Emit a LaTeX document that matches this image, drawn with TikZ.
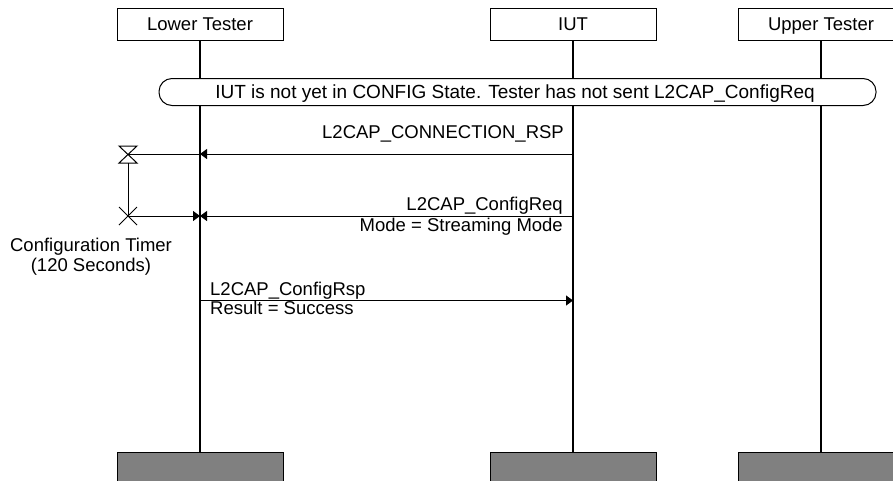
\documentclass[tikz,border=0pt]{standalone}
\usepackage{fontspec}
\setmainfont{Liberation Sans}
\usetikzlibrary{arrows.meta}
\definecolor{endgray}{HTML}{808080}
\begin{document}
\begin{tikzpicture}[x=1pt,y=-1pt,
  every node/.style={font=\fontsize{18.5}{21}\selectfont, inner sep=0pt},
  actor/.style={draw, line width=1pt, minimum width=166pt, minimum height=32pt, text height=13pt, text depth=0pt},
  endbox/.style={draw, line width=1pt, fill=endgray, minimum width=166pt, minimum height=40pt},
  life/.style={line width=1.8pt},
  thin/.style={line width=1pt},
  msg/.style={line width=1pt, -{Triangle[length=7pt,width=10pt]}},
  statebox/.style={draw, line width=1pt, fill=white, rounded corners=13pt, minimum width=717pt, minimum height=27pt},
  lbl/.style={inner sep=0pt}
]
\useasboundingbox (0,0) rectangle (893,480);

% actors
\node[actor] (lt)  at (200,24) {Lower Tester};
\node[actor] (iut) at (573,24) {IUT};
\node[actor] (ut)  at (821,24) {Upper Tester};

\node[endbox] (ltb)  at (200,472) {};
\node[endbox] (iutb) at (573,472) {};
\node[endbox] (utb)  at (821,472) {};

% lifelines
\draw[life] (lt.south) -- (ltb.north);
\draw[life] (iut.south) -- (iutb.north);
\draw[life] (ut.south) -- (utb.north);

% state
\node[statebox] (state) at (517.5,92) {};
\node[lbl, anchor=base, font=\fontsize{19}{21}\selectfont] (statetxt) at (515,98.5) {IUT is not yet in CONFIG State. Tester has not sent L2CAP\_ConfigReq};

% message 1
\coordinate (lt1) at (200,154);
\coordinate (iut1) at (573,154);
\draw[msg] (iut1) -- (lt1);
\node[lbl, anchor=base east] (m1) at (564,138) {L2CAP\_CONNECTION\_RSP};

% timer
\coordinate (ts) at (128,154);
\coordinate (te) at (128,216);
\coordinate (tsb) at (128,163);
\draw[thin] (119,146) -- (137,146) -- (119,163) -- (137,163) -- cycle;
\draw[thin] (ts) -- (lt1);
\draw[thin] (tsb) -- (te);
\draw[thin] (119,207) -- (137,225) (119,225) -- (137,207);

% message 2
\coordinate (lt2) at (200,216);
\coordinate (iut2) at (573,216);
\draw[msg] (te) -- (lt2);
\draw[msg] (iut2) -- (lt2);
\node[lbl, anchor=base east] (m2a) at (563,210) {L2CAP\_ConfigReq};
\node[lbl, anchor=base east] (m2b) at (563,231) {Mode = Streaming Mode};

\node[lbl, anchor=base] (tl1) at (91,251) {Configuration Timer};
\node[lbl, anchor=base] (tl2) at (91,271.5) {(120 Seconds)};

% message 3
\coordinate (lt3) at (200,300.5);
\coordinate (iut3) at (573,300.5);
\draw[msg] (lt3) -- (iut3);
\node[lbl, anchor=base west] (m3a) at (210,295) {L2CAP\_ConfigRsp};
\node[lbl, anchor=base west] (m3b) at (210,314) {Result = Success};
\end{tikzpicture}
\end{document}
